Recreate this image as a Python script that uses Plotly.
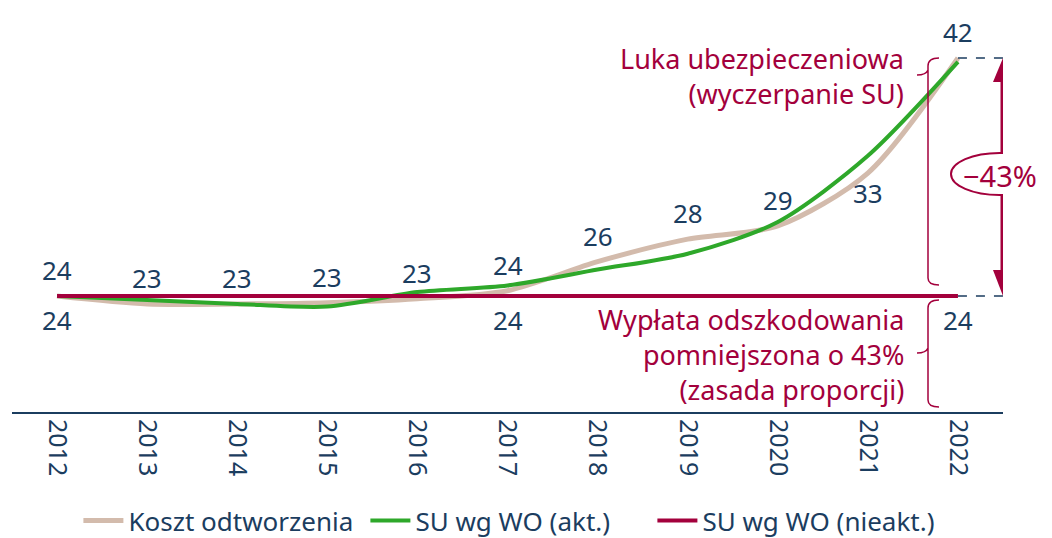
import plotly.graph_objects as go

# data
years = [2012, 2013, 2014, 2015, 2016, 2017, 2018, 2019, 2020, 2021, 2022]
koszt_odtworzenia = [24.0, 23.4, 23.4, 23.5, 23.8, 24.4, 26.6, 28.3, 29.3, 33.3, 42.0]
su_akt = [24.0, 23.7, 23.4, 23.2, 24.3, 24.8, 26.0, 27.2, 29.6, 34.6, 41.7]
su_nieakt = [24, 24, 24, 24, 24, 24, 24, 24, 24, 24, 24]
top_labels = ["24", "23", "23", "23", "23", "24", "26", "28", "29", "33", "42"]
bottom_labels = ["24", "", "", "", "", "24", "", "", "", "", "24"]

BEIGE = "#d3bbac"
GREEN = "#2ea82a"
CRIMSON = "#a3003c"
NAVY = "#1b3d5f"
FONT = "Noto Sans"

# page body has an 8px margin; figure runs to the bottom of the window
OFF = 8
W, H = 1052 - 2 * OFF, 538 - OFF
ML, MR, MT, MB = 4, 41, 0, 126
XR = [2011.5, 2022.5]
YR = [15.23, 45.78]


def X(px):
    """screen pixel -> x data"""
    return XR[0] + (px - OFF - ML) / (W - ML - MR) * (XR[1] - XR[0])


def Y(py):
    """screen pixel -> y data"""
    return YR[1] - (py - OFF - MT) / (H - MT - MB) * (YR[1] - YR[0])


fig = go.Figure()
fig.add_trace(go.Scatter(x=years, y=koszt_odtworzenia, mode='lines', name='Koszt odtworzenia',
                         line=dict(color=BEIGE, width=5, shape='spline', smoothing=0.8)))
fig.add_trace(go.Scatter(x=years, y=su_akt, mode='lines', name='SU wg WO (akt.)',
                         line=dict(color=GREEN, width=4, shape='spline', smoothing=0.8)))
fig.add_trace(go.Scatter(x=years, y=su_nieakt, mode='lines', name='SU wg WO (nieakt.)',
                         line=dict(color=CRIMSON, width=4)))

annotations = []
# value labels
top_shift = [26] * 11
top_shift[9] = -20
for yr, v, t, s in zip(years, koszt_odtworzenia, top_labels, top_shift):
    annotations.append(dict(x=yr, y=v, xref='x', yref='y', text=t, showarrow=False, yshift=s,
                            font=dict(size=26, color=NAVY, family=FONT)))
for yr, v, t in zip(years, su_nieakt, bottom_labels):
    if t:
        annotations.append(dict(x=yr, y=v, xref='x', yref='y', text=t, showarrow=False, yshift=-24,
                                font=dict(size=26, color=NAVY, family=FONT)))

shapes = []
# dashed guides
for v in [koszt_odtworzenia[-1], su_nieakt[-1]]:
    shapes.append(dict(type='line', xref='x', yref='y', x0=years[-1], x1=X(1012), y0=v, y1=v,
                       line=dict(color=NAVY, width=1.5, dash='dash')))
# double arrow
ax = X(1003)
top, bot = koszt_odtworzenia[-1], su_nieakt[-1]
shapes.append(dict(type='line', xref='x', yref='y', x0=ax, x1=ax, y0=Y(75), y1=Y(276),
                   line=dict(color=CRIMSON, width=5)))
shapes.append(dict(type='path', xref='x', yref='y', fillcolor=CRIMSON, line=dict(width=0),
                   path=f"M {ax},{top} L {X(993)},{Y(82)} L {X(1013)},{Y(82)} Z"))
shapes.append(dict(type='path', xref='x', yref='y', fillcolor=CRIMSON, line=dict(width=0),
                   path=f"M {ax},{bot} L {X(993)},{Y(270)} L {X(1013)},{Y(270)} Z"))
# ellipse
shapes.append(dict(type='circle', xref='x', yref='y', x0=X(951), x1=X(1048), y0=Y(153), y1=Y(195),
                   fillcolor='white', line=dict(color=CRIMSON, width=2)))
# braces
br_up = (f"M {X(939)},{Y(58)} Q {X(928)},{Y(58)} {X(928)},{Y(66)} L {X(928)},{Y(278)} "
         f"Q {X(928)},{Y(285)} {X(939)},{Y(285)} M {X(928)},{Y(70)} Q {X(926)},{Y(75)} {X(917)},{Y(75)}")
br_lo = (f"M {X(939)},{Y(300)} Q {X(928)},{Y(300)} {X(928)},{Y(308)} L {X(928)},{Y(400)} "
         f"Q {X(928)},{Y(407)} {X(939)},{Y(407)} M {X(928)},{Y(348)} Q {X(926)},{Y(353)} {X(917)},{Y(353)}")
for p in [br_up, br_lo]:
    shapes.append(dict(type='path', xref='x', yref='y', path=p, line=dict(color=CRIMSON, width=1.5)))

annotations += [
    dict(x=X(1000), y=Y(175), xref='x', yref='y', text='−43%', showarrow=False,
         font=dict(size=29, color=CRIMSON, family=FONT)),
    dict(x=X(906), y=Y(76), xref='x', yref='y', text='Luka ubezpieczeniowa<br>(wyczerpanie SU)',
         showarrow=False, xanchor='right', yanchor='middle', align='right',
         font=dict(size=27, color=CRIMSON, family=FONT)),
    dict(x=X(906), y=Y(354), xref='x', yref='y',
         text='Wypłata odszkodowania<br>pomniejszona o 43%<br>(zasada proporcji)',
         showarrow=False, xanchor='right', yanchor='middle', align='right',
         font=dict(size=27, color=CRIMSON, family=FONT)),
]

fig.update_xaxes(range=XR, tickvals=years, tickangle=90, showgrid=False, zeroline=False,
                 showline=True, linecolor=NAVY, linewidth=2, ticks='',
                 tickfont=dict(size=25, color=NAVY, family=FONT))
fig.update_yaxes(range=YR, visible=False, showgrid=False)
fig.update_layout(
    width=W, height=H,
    margin=dict(l=ML, r=MR, t=MT, b=MB),
    plot_bgcolor='white', paper_bgcolor='white',
    font=dict(family=FONT, color=NAVY),
    shapes=shapes, annotations=annotations,
    legend=dict(orientation='h', x=0.067, xanchor='left', xref='paper',
                y=(H - 489) / H, yanchor='top', yref='container',
                font=dict(size=26, color=NAVY, family=FONT), itemwidth=40,
                entrywidth=232, traceorder='normal'),
)

fig.write_html("out.html")
